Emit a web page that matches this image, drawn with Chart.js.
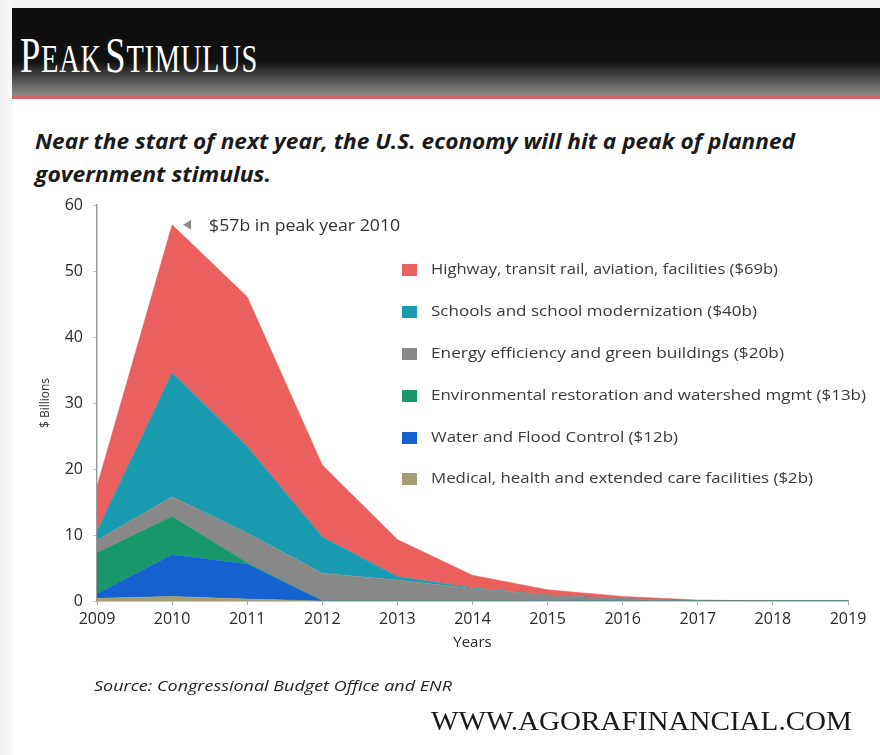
<!DOCTYPE html>
<html>
<head>
<meta charset="utf-8">
<script src="https://cdn.jsdelivr.net/npm/chart.js@4/dist/chart.umd.min.js"></script>
<style>
  body { margin: 0; background: #fff; }
  #page { position: relative; width: 880px; height: 755px; overflow: hidden; background: #fff; }
  #edge { position: absolute; left: 0; top: 0; width: 12px; height: 755px; background: linear-gradient(to right, #f0f0f0, #f8f8f8); }
  #topedge { position: absolute; left: 0; top: 0; width: 880px; height: 8px; background: #f3f3f3; }
  #header { position: absolute; left: 12px; top: 8px; width: 868px; height: 87px;
    background: linear-gradient(to bottom, #0c0c0c 0%, #121212 62%, #4a4a4a 80%, #8a8a88 100%); }
  #redline { position: absolute; left: 12px; top: 95px; width: 868px; height: 4px; background: #d9646a; }
  .fit { position: absolute; white-space: nowrap; transform-origin: 0 0; }
  #title { left: 20px; top: 26px; color: #fff; font-family: "Liberation Serif", "DejaVu Serif", serif; letter-spacing: 1px; }
  #title .big { font-size: 50px; }
  #title .sm { font-size: 39px; }
  .sub { left: 35px; font-family: "Open Sans", sans-serif; font-weight: 700; font-style: italic; font-size: 22px; color: #1a1a1a; }
  #source { left: 94px; top: 675px; font-family: "Open Sans", sans-serif; font-style: italic; font-size: 15px; color: #222; }
  #url { left: 431px; top: 706px; font-family: "Liberation Serif", "DejaVu Serif", serif; font-size: 27px; color: #1a1a1a; }
  #legend { position: absolute; left: 402px; top: 0; }
  .row { position: absolute; left: 0; white-space: nowrap; }
  .row .sw { position: absolute; left: 0; top: -6px; width: 15px; height: 12px; }
  .row .tx { position: absolute; left: 29px; top: -11px; font-family: "Open Sans", sans-serif; font-size: 14.5px; color: #3a3a3a; transform-origin: 0 0; }
  canvas { position: absolute; left: 0; top: 0; }
</style>
</head>
<body>
<div id="page">
  <div id="topedge"></div>
  <div id="header"></div>
  <div id="redline"></div>
  <div id="edge"></div>
  <div id="title" class="fit" data-w="238"><span class="big">P</span><span class="sm">EAK</span> <span class="big">S</span><span class="sm">TIMULUS</span></div>
  <div class="sub fit" style="top:125px" data-w="760">Near the start of next year, the U.S. economy will hit a peak of planned</div>
  <div class="sub fit" style="top:158px" data-w="236">government stimulus.</div>
  <canvas id="myChart" width="880" height="755"></canvas>
  <div id="legend"></div>
  <div id="source" class="fit" data-w="358">Source: Congressional Budget Office and ENR</div>
  <div id="url" class="fit" data-w="421">WWW.AGORAFINANCIAL.COM</div>
</div>
<script>
const years = ['2009', '2010', '2011', '2012', '2013', '2014', '2015', '2016', '2017', '2018', '2019'];
const yTicks = [0, 10, 20, 30, 40, 50, 60];

// stacked layers, bottom to top ($ billions)
const medical     = [0.4, 0.7, 0.3, 0,   0,   0,   0,   0,    0,    0, 0];
const water       = [0.7, 6.3, 5.3, 0,   0,   0,   0,   0,    0,    0, 0];
const environment = [6.2, 5.8, 0.2, 0,   0,   0,   0,   0,    0,    0, 0];
const energy      = [1.9, 3.0, 4.5, 4.2, 3.2, 1.9, 0.9, 0.35, 0.05, 0, 0];
const schools     = [1.4, 18.8, 13.1, 5.5, 0.5, 0.1, 0,  0,    0,    0, 0];
const highway     = [6.8, 22.4, 22.7, 10.9, 5.6, 1.9, 0.8, 0.35, 0.1, 0, 0];

const seriesNames = [
  'Medical, health and extended care facilities ($2b)',
  'Water and Flood Control ($12b)',
  'Environmental restoration and watershed mgmt ($13b)',
  'Energy efficiency and green buildings ($20b)',
  'Schools and school modernization ($40b)',
  'Highway, transit rail, aviation, facilities ($69b)'
];
const seriesData = [medical, water, environment, energy, schools, highway];
const seriesColors = ['#a49e76', '#1462d0', '#19986b', '#888888', '#1a9bb0', '#e9605f'];
const peakNote = '$57b in peak year 2010';

// legend rows, top to bottom (highway first)
const legendTops = [270, 312, 354, 396, 438, 479];
const legendWidths = [347, 326, 353, 435, 247, 382];

function buildLegend() {
  const legend = document.getElementById('legend');
  for (let k = 0; k < 6; k++) {
    const i = 5 - k;
    const row = document.createElement('div');
    row.className = 'row';
    row.style.top = legendTops[k] + 'px';
    row.innerHTML = '<div class="sw" style="background:' + seriesColors[i] + '"></div><div class="tx">' + seriesNames[i] + '</div>';
    legend.appendChild(row);
    const tx = row.querySelector('.tx');
    tx.style.transform = 'scaleX(' + (legendWidths[k] / tx.getBoundingClientRect().width) + ')';
  }
}

function fitTexts() {
  document.querySelectorAll('.fit').forEach(el => {
    const w = parseFloat(el.dataset.w);
    el.style.transform = 'none';
    el.style.transform = 'scaleX(' + (w / el.getBoundingClientRect().width) + ')';
  });
}

const peakPlugin = {
  id: 'peakNote',
  afterDatasetsDraw(chart) {
    const ctx = chart.ctx;
    const x = chart.scales.x.getPixelForValue(1);
    const totals = years.map((_, j) => seriesData.reduce((s, d) => s + d[j], 0));
    const y = chart.scales.y.getPixelForValue(Math.max(...totals));
    ctx.save();
    ctx.fillStyle = '#8a8a8a';
    ctx.beginPath();
    ctx.moveTo(x + 11, y);
    ctx.lineTo(x + 19, y - 5);
    ctx.lineTo(x + 19, y + 5);
    ctx.closePath();
    ctx.fill();
    ctx.fillStyle = '#333';
    ctx.font = '17px "Open Sans"';
    ctx.textBaseline = 'middle';
    const tw = ctx.measureText(peakNote).width;
    ctx.translate(x + 37, y + 1);
    ctx.scale(191 / tw, 1);
    ctx.fillText(peakNote, 0, 0);
    ctx.restore();
  }
};

function drawChart() {
  const ctx = document.getElementById('myChart');
  new Chart(ctx, {
    type: 'line',
    data: {
      labels: years,
      datasets: seriesData.map((d, i) => ({
        label: seriesNames[i],
        data: d,
        backgroundColor: seriesColors[i],
        borderColor: seriesColors[i],
        borderWidth: 0.5,
        pointRadius: 0,
        tension: 0,
        fill: i === 0 ? 'origin' : '-1'
      }))
    },
    options: {
      responsive: false,
      animation: false,
      layout: { padding: { left: 20, top: 205, right: 32, bottom: 103 } },
      plugins: { legend: { display: false }, tooltip: { enabled: false } },
      scales: {
        x: {
          offset: false,
          grid: { drawOnChartArea: false, drawTicks: true, tickLength: 4, color: '#aaa' },
          border: { color: '#999', width: 1.5 },
          ticks: { autoSkip: false, maxRotation: 0, padding: 5, color: '#2a2a2a', font: { family: 'Open Sans', size: 16 } },
          title: { display: true, text: 'Years', color: '#2a2a2a', padding: 0, font: { family: 'Open Sans', size: 15 } },
          afterFit(scale) { scale.height = 51; }
        },
        y: {
          stacked: true,
          min: 0,
          max: 60,
          afterBuildTicks(scale) { scale.ticks = yTicks.map(v => ({ value: v })); },
          grid: { drawOnChartArea: false, drawTicks: true, tickLength: 4, color: '#b8c4cc' },
          border: { color: '#999', width: 1.5 },
          ticks: { padding: 10, color: '#2a2a2a', font: { family: 'Open Sans', size: 16 } },
          title: { display: true, text: '$ Billions', color: '#333', padding: { top: 18 }, font: { family: 'Open Sans', size: 12 } },
          afterFit(scale) { scale.width = 77; }
        }
      }
    },
    plugins: [peakPlugin]
  });
}

Promise.all([
  document.fonts.load('15px "Open Sans"'),
  document.fonts.load('italic 15px "Open Sans"'),
  document.fonts.load('italic 700 22px "Open Sans"'),
  document.fonts.load('27px "Liberation Serif"')
]).catch(() => {}).then(() => {
  fitTexts();
  buildLegend();
  drawChart();
});
</script>
</body>
</html>
